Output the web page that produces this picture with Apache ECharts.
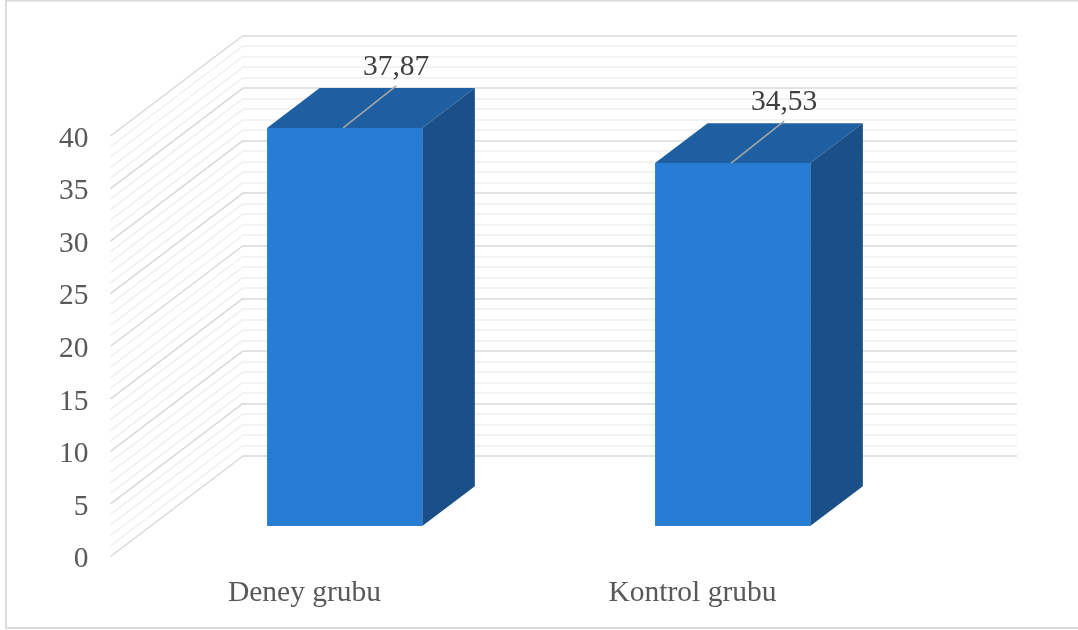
<!DOCTYPE html>
<html>
<head>
<meta charset="utf-8">
<style>html,body{margin:0;padding:0;background:#fff}#chart{width:1078px;height:630px}</style>
<script src="https://cdn.jsdelivr.net/npm/echarts@6/dist/echarts.min.js"></script>
</head>
<body>
<div id="chart"></div>
<script>
const categories = ['Deney grubu', 'Kontrol grubu'];
const groupValues = [37.87, 34.53];
const yTickLabels = [0, 5, 10, 15, 20, 25, 30, 35, 40];
const wallLevels = [0,1,2,3,4,5,6,7,8,9,10,11,12,13,14,15,16,17,18,19,20,21,22,23,24,25,26,27,28,29,30,31,32,33,34,35,36,37,38,39,40];

// Oblique projection: one full unit of depth moves a point this far on screen.
const DEPTH_X = 132.5;
const DEPTH_Y = -100.5;
const BAR_NEAR = 0.303;
const BAR_FAR = 0.70;
const BAR_WIDTH_RATIO = 0.40;

const FRONT = { left: 110.5, width: 776, top: 136, height: 420.5 };
const BACK = { left: 243, width: 774, top: 35.5, height: 420.5 };

const SERIF = '"Liberation Serif", "Times New Roman", serif';
const COLOR_FACE = '#277dd4';
const COLOR_TOP = '#1e5fa2';
const COLOR_SIDE = '#1a5087';
const COLOR_MAJOR = '#d9d9d9';
const COLOR_MINOR = '#f0f0f0';

function shift(p, depth) {
  return [p[0] + DEPTH_X * depth, p[1] + DEPTH_Y * depth];
}

function renderSideWall(params, api) {
  const level = api.value(0);
  const start = [params.coordSys.x, api.coord([0, level])[1]];
  const end = shift(start, 1);
  return {
    type: 'line',
    shape: { x1: start[0], y1: start[1], x2: end[0], y2: end[1] },
    style: { stroke: level % 5 === 0 ? COLOR_MAJOR : COLOR_MINOR, lineWidth: 1.5 },
    silent: true
  };
}

function renderBar(params, api) {
  const idx = api.value(0);
  const value = api.value(1);
  const half = api.size([1, 0])[0] * BAR_WIDTH_RATIO / 2;
  const baseMid = api.coord([idx, 0]);
  const topMid = api.coord([idx, value]);
  const bl = shift([baseMid[0] - half, baseMid[1]], BAR_NEAR);
  const br = shift([baseMid[0] + half, baseMid[1]], BAR_NEAR);
  const tl = shift([topMid[0] - half, topMid[1]], BAR_NEAR);
  const tr = shift([topMid[0] + half, topMid[1]], BAR_NEAR);
  const span = BAR_FAR - BAR_NEAR;
  const brBack = shift(br, span);
  const tlBack = shift(tl, span);
  const trBack = shift(tr, span);
  const leadFrom = shift(topMid, BAR_NEAR);
  leadFrom[0] -= 1.5;
  const leadTo = [leadFrom[0] + 53, leadFrom[1] - 42];
  return {
    type: 'group',
    children: [
      { type: 'polygon', shape: { points: [tl, tr, trBack, tlBack] },
        style: { fill: COLOR_TOP } },
      { type: 'polygon', shape: { points: [br, brBack, trBack, tr] },
        style: { fill: COLOR_SIDE } },
      { type: 'polygon', shape: { points: [bl, br, tr, tl] },
        style: { fill: COLOR_FACE } },
      { type: 'line',
        shape: { x1: leadFrom[0], y1: leadFrom[1], x2: leadTo[0], y2: leadTo[1] },
        style: { stroke: '#a6a6a6', lineWidth: 1.5 } },
      { type: 'text',
        style: {
          x: leadTo[0], y: leadTo[1] - 4,
          text: String(value).replace('.', ','),
          font: '29.5px ' + SERIF,
          fill: '#404040',
          align: 'center',
          verticalAlign: 'bottom'
        } }
    ]
  };
}

const chart = echarts.init(document.getElementById('chart'), null, { renderer: 'canvas' });
chart.setOption({
  animation: false,
  backgroundColor: '#ffffff',
  graphic: [{
    type: 'rect',
    shape: { x: 6, y: 0.5, width: 1090, height: 627.5 },
    style: { fill: 'none', stroke: '#d9d9d9', lineWidth: 1.8 },
    z: -1
  }],
  grid: [
    { left: FRONT.left, width: FRONT.width, top: FRONT.top, height: FRONT.height },
    { left: BACK.left, width: BACK.width, top: BACK.top, height: BACK.height }
  ],
  xAxis: [
    {
      type: 'category', gridIndex: 0, data: categories,
      axisLine: { show: false }, axisTick: { show: false }, splitLine: { show: false },
      axisLabel: { color: '#595959', fontFamily: SERIF, fontSize: 29.5, margin: 22 }
    },
    { type: 'value', gridIndex: 1, show: false, min: 0, max: 1 }
  ],
  yAxis: [
    {
      type: 'value', gridIndex: 0, min: 0, max: 40, interval: 5,
      axisLine: { show: false }, axisTick: { show: false }, splitLine: { show: false },
      axisLabel: {
        color: '#595959', fontFamily: SERIF, fontSize: 29.5, margin: 22,
        verticalAlign: 'top', lineHeight: 6,
        formatter: v => (yTickLabels.includes(v) ? String(v) : '')
      }
    },
    {
      type: 'value', gridIndex: 1, min: 0, max: 40, interval: 5,
      axisLine: { show: false }, axisTick: { show: false }, axisLabel: { show: false },
      splitLine: { show: true, lineStyle: { color: COLOR_MAJOR, width: 1.5 } },
      minorTick: { show: false, splitNumber: 5 },
      minorSplitLine: { show: true, lineStyle: { color: COLOR_MINOR, width: 1.5 } }
    }
  ],
  series: [
    {
      type: 'custom', xAxisIndex: 0, yAxisIndex: 0, silent: true, z: 1,
      renderItem: renderSideWall,
      encode: { y: 0 },
      data: wallLevels.map(v => [v])
    },
    {
      type: 'custom', xAxisIndex: 0, yAxisIndex: 0, silent: true, z: 3,
      renderItem: renderBar,
      encode: { x: 0, y: 1 },
      clip: false,
      data: groupValues.map((v, i) => [i, v])
    }
  ]
});
</script>
</body>
</html>
